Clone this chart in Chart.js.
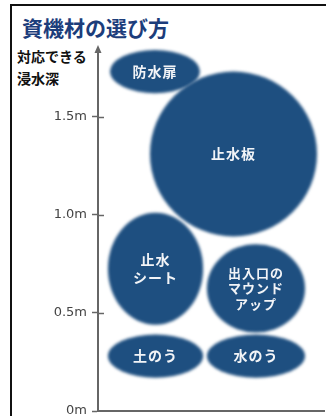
<!DOCTYPE html>
<html>
<head>
<meta charset="utf-8">
<script src="https://cdn.jsdelivr.net/npm/chart.js@4"></script>
<style>
  body { margin: 0; background: #fff; }
  #wrap { position: relative; width: 326px; height: 416px; overflow: hidden; }
  #frame { position: absolute; left: 10px; top: 4px; width: 330px; height: 430px;
    border-top: 2px solid #111; border-left: 2px solid #111; }
  #title { position: absolute; left: 22px; top: 14px; margin: 0; font: bold 21px/26px "Noto Sans CJK JP";
    color: #1c3d7b; }
  #ylabel { position: absolute; left: 17px; top: 45px; font: bold 14px/22px "Noto Sans CJK JP"; color: #111; }
  canvas { position: absolute; left: 0; top: 0; }
</style>
</head>
<body>
<div id="wrap">
  <div id="frame"></div>
  <h1 id="title">資機材の選び方</h1>
  <div id="ylabel">対応できる<br>浸水深</div>
  <canvas id="myChart" width="326" height="416"></canvas>
</div>
<script>
// measures and the depth range each one covers (m)
const labels = ['防水扉', '止水板', '止水\nシート', '出入口の\nマウンド\nアップ', '土のう', '水のう'];
const depthLow = [1.62, 0.89, 0.44, 0.40, 0.17, 0.17];
const depthHigh = [1.84, 1.73, 1.01, 0.85, 0.39, 0.39];
// horizontal extent on a 0-100 layout axis
const colLeft = [5.3, 23.0, 4.4, 48.2, 4.4, 48.2];
const colRight = [45.1, 96.9, 46.5, 91.6, 46.5, 91.6];
const yTicks = [0, 0.5, 1.0, 1.5];
const yTickLabels = ['0m', '0.5m', '1.0m', '1.5m'];

const bubbleColor = '#1e4f80';
const axisColor = '#666';

// draws each measure as a soft ellipse sized from the scales
const ellipsePlugin = {
  id: 'ellipses',
  afterDatasetsDraw(chart) {
    const ctx = chart.ctx;
    const xs = chart.scales.x;
    const ys = chart.scales.y;
    const meta = chart.getDatasetMeta(0);
    ctx.save();
    ctx.filter = 'blur(1.5px)';
    ctx.fillStyle = bubbleColor;
    labels.forEach((label, i) => {
      const pt = meta.data[i];
      const rx = (xs.getPixelForValue(colRight[i]) - xs.getPixelForValue(colLeft[i])) / 2;
      const ry = (ys.getPixelForValue(depthLow[i]) - ys.getPixelForValue(depthHigh[i])) / 2;
      ctx.beginPath();
      ctx.ellipse(pt.x, pt.y, rx, ry, 0, 0, Math.PI * 2);
      ctx.fill();
    });
    ctx.filter = 'none';
    ctx.fillStyle = '#f2f4f7';
    ctx.textAlign = 'center';
    ctx.textBaseline = 'middle';
    labels.forEach((label, i) => {
      const pt = meta.data[i];
      const lines = label.split('\n');
      const size = lines.length > 2 ? 13 : 14;
      const lh = lines.length > 2 ? 15.5 : 18;
      ctx.font = 'bold ' + size + 'px "Noto Sans CJK JP"';
      ctx.letterSpacing = '1px';
      lines.forEach((line, j) => {
        ctx.fillText(line, pt.x, pt.y + (j - (lines.length - 1) / 2) * lh);
      });
    });
    ctx.restore();
  },
  afterDraw(chart) {
    const ctx = chart.ctx;
    const ys = chart.scales.y;
    const x = chart.chartArea.left;
    ctx.save();
    ctx.strokeStyle = axisColor;
    ctx.fillStyle = axisColor;
    ctx.lineWidth = 1.5;
    // tick marks cross the axis
    yTicks.forEach(v => {
      if (v === 0) return;
      const y = Math.round(ys.getPixelForValue(v)) + 0.5;
      ctx.beginPath();
      ctx.moveTo(x, y);
      ctx.lineTo(x + 6, y);
      ctx.stroke();
    });
    // arrow head
    const top = chart.chartArea.top;
    ctx.beginPath();
    ctx.moveTo(x, top - 5);
    ctx.lineTo(x - 3.5, top + 3);
    ctx.lineTo(x + 3.5, top + 3);
    ctx.closePath();
    ctx.fill();
    ctx.restore();
  }
};

new Chart(document.getElementById('myChart'), {
  type: 'bubble',
  data: {
    labels: labels,
    datasets: [{
      data: labels.map((l, i) => ({
        x: (colLeft[i] + colRight[i]) / 2,
        y: (depthLow[i] + depthHigh[i]) / 2,
        r: 0
      })),
      radius: 0,
      hoverRadius: 0,
      backgroundColor: bubbleColor,
      borderWidth: 0
    }]
  },
  options: {
    responsive: false,
    animation: false,
    events: [],
    layout: { padding: { left: 0, top: 50, right: 2, bottom: 0 } },
    plugins: {
      legend: { display: false },
      tooltip: { enabled: false }
    },
    scales: {
      x: {
        type: 'linear',
        min: 0,
        max: 100,
        ticks: { display: false },
        grid: { display: false },
        border: { color: axisColor, width: 2 },
        afterFit: s => { s.height = 5; s.paddingLeft = 0; s.paddingRight = 0; }
      },
      y: {
        min: 0,
        max: 1.84,
        afterBuildTicks: s => { s.ticks = yTicks.map(v => ({ value: v })); },
        ticks: {
          padding: 5,
          color: '#444',
          font: { family: 'DejaVu Sans', size: 13 },
          callback: (v) => yTickLabels[yTicks.indexOf(v)]
        },
        grid: { drawOnChartArea: false, tickLength: 6, tickColor: axisColor, tickWidth: 1.5 },
        border: { color: axisColor, width: 2 },
        afterFit: s => { s.width = 98; s.paddingTop = 0; s.paddingBottom = 0; }
      }
    }
  },
  plugins: [ellipsePlugin]
});
</script>
</body>
</html>
